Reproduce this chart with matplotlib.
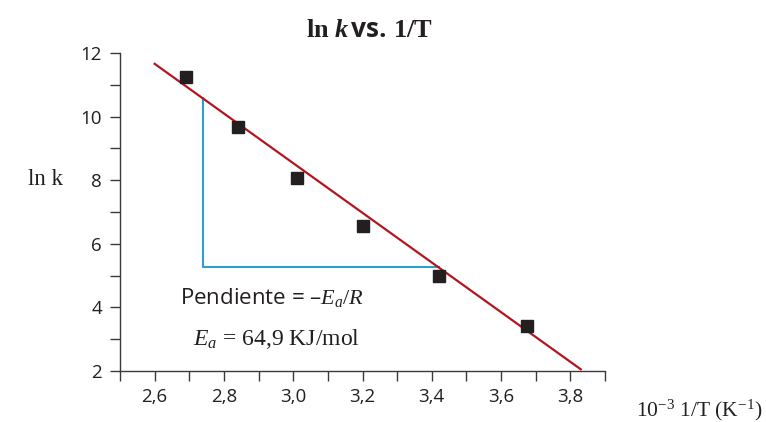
import matplotlib
matplotlib.use("Agg")
import matplotlib.pyplot as plt
from matplotlib.ticker import MultipleLocator, FuncFormatter

plt.rcParams["mathtext.fontset"] = "custom"
plt.rcParams["mathtext.rm"] = "Liberation Serif"
plt.rcParams["mathtext.it"] = "Liberation Serif:italic"
plt.rcParams["mathtext.bf"] = "Liberation Serif:bold"
plt.rcParams["mathtext.bfit"] = "Liberation Serif:bold:italic"
plt.rcParams["mathtext.sf"] = "Open Sans:bold"

# data
inv_T = [2.69, 2.84, 3.01, 3.20, 3.42, 3.675]
ln_k = [11.25, 9.68, 8.08, 6.55, 5.0, 3.43]
fit_x = [2.60, 3.83]
slope = -7.81
intercept_at_260 = 11.66
fit_y = [intercept_at_260 + slope * (x - 2.60) for x in fit_x]
tri_x = [2.74, 2.74, 3.42]
tri_y = [10.57, 5.26, 5.26]
x_ticks = [2.6, 2.8, 3.0, 3.2, 3.4, 3.6, 3.8]

fig = plt.figure(figsize=(7.66, 4.22), dpi=100)
ax = fig.add_axes([120/766, 1-371/422, 485/766, 318/422])

ax.plot(fit_x, fit_y, color="#b01620", lw=1.6, zorder=2)
ax.plot(tri_x, tri_y, color="#2a9fd0", lw=1.5, zorder=1)
ax.plot(inv_T, ln_k, ls="none", marker="s", ms=8.5, color="#231f20", zorder=3)

ax.set_xlim(2.5, 3.9)
ax.set_ylim(2, 12)
for s in ["top", "right"]:
    ax.spines[s].set_visible(False)
for s in ["left", "bottom"]:
    ax.spines[s].set_color("#3a3a3a")
    ax.spines[s].set_linewidth(1.0)

ax.xaxis.set_minor_locator(MultipleLocator(0.1))
ax.yaxis.set_major_locator(MultipleLocator(2))
ax.yaxis.set_minor_locator(MultipleLocator(1))
ax.set_xticks(x_ticks)
ax.xaxis.set_major_formatter(FuncFormatter(lambda v, p: f"{v:.1f}".replace(".", ",")))
ax.yaxis.set_major_formatter(FuncFormatter(lambda v, p: f"{v:.0f}"))
ax.tick_params(which="both", direction="out", length=7, width=1, color="#3a3a3a",
               labelsize=13.5, labelcolor="#231f20")
ax.tick_params(axis="x", pad=5)
ax.tick_params(axis="y", pad=6)
for lab in ax.get_xticklabels() + ax.get_yticklabels():
    lab.set_fontfamily("Open Sans")

fig.text(370/766, 1-30/422, r"$\mathbf{ln}\ \mathbfit{k}\,\mathsf{vs.}\,\mathbf{1/T}$",
         ha="center", va="center", fontsize=19, color="#231f20")
fig.text(45/766, 1-180/422, "ln k", ha="center", va="center", fontsize=16.5,
         family="Liberation Serif", color="#231f20")
fig.text(762/766, 1-410/422, r"10$^{-3}$ 1/T (K$^{-1}$)", ha="right", va="center",
         fontsize=15.5, family="Liberation Serif", color="#231f20")

ax.text(2.674, 4.32, "Pendiente = \u2013$E_a/R$", fontsize=16, family="Open Sans",
        color="#231f20", va="center", ha="left")
ax.text(2.712, 3.0, "$E_a$ = 64,9 KJ/mol", fontsize=17, family="Liberation Serif",
        color="#231f20", va="center", ha="left")

fig.savefig("out.png", dpi=100)
